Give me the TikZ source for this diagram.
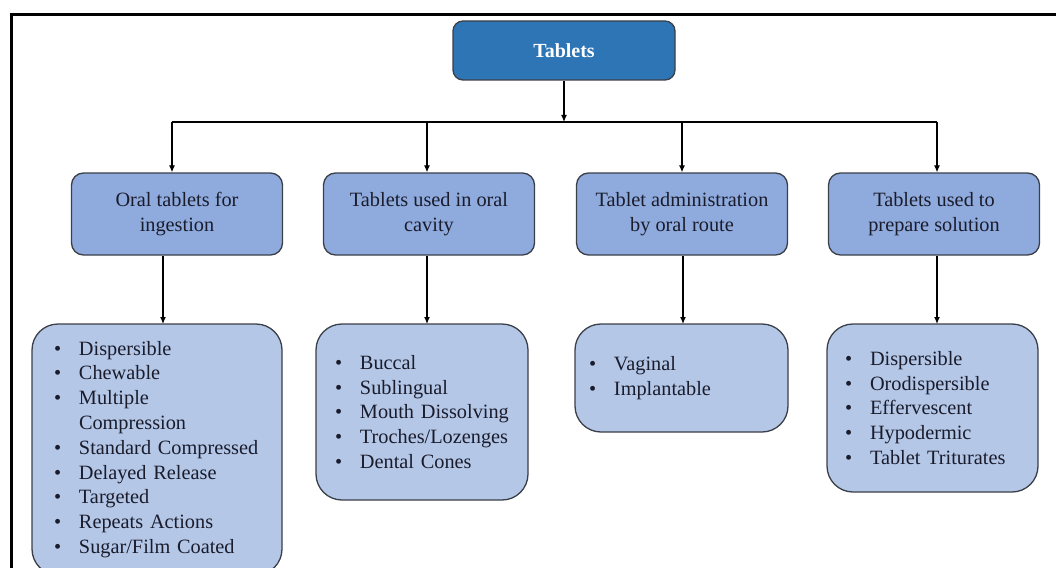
\documentclass[tikz,border=0pt]{standalone}
\usepackage{fontspec}
\setmainfont{Liberation Serif}
\usetikzlibrary{arrows.meta}
\definecolor{topblue}{HTML}{2E75B6}
\definecolor{midblue}{HTML}{8FAADC}
\definecolor{lowblue}{HTML}{B4C7E7}
\definecolor{edge}{HTML}{3B3F48}
\definecolor{ink}{HTML}{1A1C2C}
\newcommand{\bul}{\makebox[25pt][l]{\textbullet}}
\newcommand{\nobul}{\hspace*{25pt}}
\begin{document}
\begin{tikzpicture}[x=1pt,y=-1pt,
 topbox/.style={draw=edge, line width=1.3pt, fill=topblue, rounded corners=10pt, minimum width=222pt, minimum height=59pt, text=white, font=\fontsize{20}{24}\selectfont\bfseries, inner sep=0pt},
 midbox/.style={draw=edge, line width=1.3pt, fill=midblue, rounded corners=12pt, minimum width=211pt, minimum height=82pt, text=ink, font=\fontsize{20.3}{24.8}\selectfont, align=center, inner sep=0pt},
 lowbox/.style={draw=edge, line width=1.3pt, fill=lowblue, rounded corners=26pt, text=ink, font=\fontsize{20.3}{24.8}\selectfont, align=left, inner sep=0pt},
 arr/.style={line width=1.2pt, draw=black, -{Latex[length=7pt,width=6pt]}},
 busline/.style={line width=1.2pt, draw=black},
]
\useasboundingbox (0,0) rectangle (1056,567);
\clip (0,0) rectangle (1056,567);
\draw[line width=3pt] (11.5,590) -- (11.5,15) -- (1080,15);

\node[topbox] (top) at (564,50.5) {Tablets};

\node[midbox] (l1) at (177,214) {Oral tablets for\\ingestion};
\node[midbox] (l2) at (429,214) {Tablets used in oral\\cavity};
\node[midbox] (l3) at (682,214) {Tablet administration\\by oral route};
\node[midbox] (l4) at (934,214) {Tablets used to\\prepare solution};

\node[lowbox, minimum width=250pt, minimum height=251pt, text width=206pt] (b1) at (157,449.5)
 {\bul Dispersible\\\bul Chewable\\\bul Multiple\\\nobul Compression\\\bul Standard Compressed\\\bul Delayed Release\\\bul Targeted\\\bul Repeats Actions\\\bul Sugar/Film Coated};
\node[lowbox, minimum width=212pt, minimum height=176pt, text width=174pt] (b2) at (422,412)
 {\bul Buccal\\\bul Sublingual\\\bul Mouth Dissolving\\\bul Troches/Lozenges\\\bul Dental Cones};
\node[lowbox, minimum width=213pt, minimum height=108pt, text width=185pt] (b3) at (681.5,378)
 {\bul Vaginal\\\bul Implantable};
\node[lowbox, minimum width=211pt, minimum height=168pt, text width=175pt] (b4) at (932.5,408)
 {\bul Dispersible\\\bul Orodispersible\\\bul Effervescent\\\bul Hypodermic\\\bul Tablet Triturates};

\coordinate (bus) at (564,122);
\coordinate (k1) at (172,122);
\coordinate (k2) at (427,122);
\coordinate (k3) at (682,122);
\coordinate (k4) at (937,122);
\coordinate (d1) at (163,324);
\coordinate (d2) at (427,324);
\coordinate (d3) at (683,324);
\coordinate (d4) at (937,324);

\draw[arr] (top.south) -- (bus);
\draw[busline] (k1) -- (k4);
\draw[arr] (k1) -- (k1 |- l1.north);
\draw[arr] (k2) -- (k2 |- l2.north);
\draw[arr] (k3) -- (k3 |- l3.north);
\draw[arr] (k4) -- (k4 |- l4.north);
\draw[arr] (d1 |- l1.south) -- (d1);
\draw[arr] (d2 |- l2.south) -- (d2);
\draw[arr] (d3 |- l3.south) -- (d3);
\draw[arr] (d4 |- l4.south) -- (d4);
\end{tikzpicture}
\end{document}
